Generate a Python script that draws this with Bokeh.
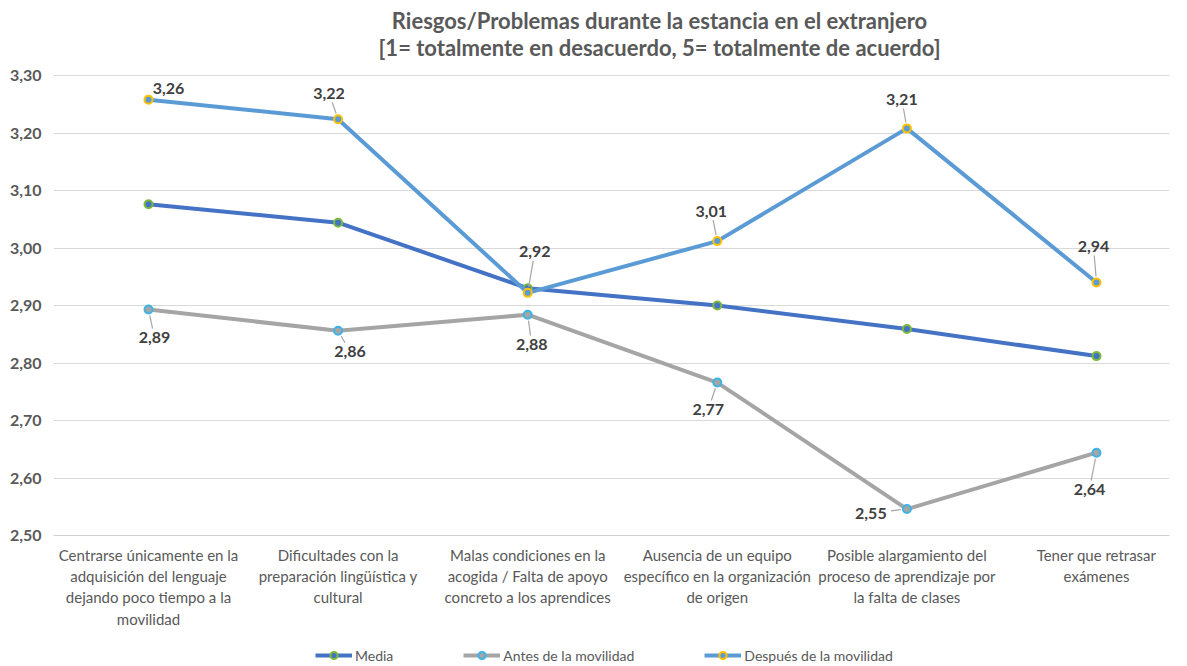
from bokeh.plotting import figure
from bokeh.layouts import column
from bokeh.models import (ColumnDataSource, Range1d, FixedTicker, CustomJSTickFormatter,
                          LabelSet, Label, Legend, LegendItem)
from bokeh.embed import file_html
from bokeh.resources import INLINE
from bokeh.core.properties import value

# ---------------- data ----------------
categories = [
    "Centrarse únicamente en la\nadquisición del lenguaje\ndejando poco tiempo a la\nmovilidad",
    "Dificultades con la\npreparación lingüística y\ncultural",
    "Malas condiciones en la\nacogida / Falta de apoyo\nconcreto a los aprendices",
    "Ausencia de un equipo\nespecífico en la organización\nde origen",
    "Posible alargamiento del\nproceso de aprendizaje por\nla falta de clases",
    "Tener que retrasar\nexámenes",
]
media = [3.076, 3.044, 2.930, 2.900, 2.859, 2.812]
antes = [2.893, 2.856, 2.884, 2.766, 2.546, 2.644]
despues = [3.258, 3.224, 2.922, 3.012, 3.208, 2.940]
series_names = ["Media", "Antes de la movilidad", "Después de la movilidad"]
y_ticks = [2.5, 2.6, 2.7, 2.8, 2.9, 3.0, 3.1, 3.2, 3.3]
title_lines = ["Riesgos/Problemas durante la estancia en el extranjero",
               "[1= totalmente en desacuerdo, 5= totalmente de acuerdo]"]

# ---------------- style / placement ----------------
FONT = "Lato"
W = 1171
H_MAIN, H_LEG = 640, 26
LEFT, RIGHT, BOTTOM = 53, 2, 105
AXIS_Y0 = H_MAIN - BOTTOM          # canvas pixel of the 2,50 line
GRID_TOP = 75                      # canvas pixel of the 3,30 line
PX_X = 189.6
PX_Y = (AXIS_Y0 - GRID_TOP) / (y_ticks[-1] - y_ticks[0])
X0 = -(148 - LEFT) / PX_X
X1 = X0 + (W - LEFT - RIGHT) / PX_X
Y0 = y_ticks[0]
Y1 = Y0 + AXIS_Y0 / PX_Y           # frame reaches the top of the canvas (title area)

# label offsets in pixels (dx right, dy up)
desp_off = [(20, 11), (-9, 26), (7, 41), (-6, 30), (-5, 29), (-3, 36)]
antes_off = [(6, -28), (12, -21), (4, -30), (-9, -27), (-36, -4), (-7, -37)]

c_media, c_media_b = "#4472C4", "#7DBA3C"
c_antes, c_antes_b = "#A5A5A5", "#3CB4E6"
c_desp, c_desp_b = "#5B9BD5", "#FFC000"
styles = [(c_media, c_media_b), (c_antes, c_antes_b), (c_desp, c_desp_b)]
series_vals = [media, antes, despues]

x = list(range(len(categories)))

p = figure(width=W, height=H_MAIN, output_backend="svg", toolbar_location=None,
           x_range=Range1d(X0, X1), y_range=Range1d(Y0, Y1),
           min_border_left=LEFT, min_border_right=RIGHT,
           min_border_top=0, min_border_bottom=BOTTOM)
p.outline_line_color = None
p.background_fill_color = "white"
p.border_fill_color = "white"

# axes
p.yaxis.ticker = FixedTicker(ticks=y_ticks)
p.yaxis.formatter = CustomJSTickFormatter(code="return tick.toFixed(2).replace('.', ',');")
p.yaxis.axis_line_color = None
p.yaxis.major_tick_line_color = None
p.yaxis.minor_tick_line_color = None
p.yaxis.major_label_text_font = FONT
p.yaxis.major_label_text_font_size = "16px"
p.yaxis.major_label_text_font_style = "bold"
p.yaxis.major_label_text_color = "#595959"
p.yaxis.major_label_standoff = 6

p.xaxis.ticker = FixedTicker(ticks=x)
p.xaxis.major_label_overrides = {i: c for i, c in enumerate(categories)}
p.xaxis.axis_line_color = "#D0D0D0"
p.xaxis.major_tick_line_color = None
p.xaxis.minor_tick_line_color = None
p.xaxis.major_label_text_font = FONT
p.xaxis.major_label_text_font_size = "15px"
p.xaxis.major_label_text_color = "#595959"
p.xaxis.major_label_text_line_height = 1.19
p.xaxis.major_label_standoff = 4

p.xgrid.grid_line_color = None
p.ygrid.grid_line_color = "#D9D9D9"
p.ygrid.grid_line_width = 1

# series
for vals, (lc, bc) in zip(series_vals, styles):
    src = ColumnDataSource(dict(x=x, y=vals))
    p.line("x", "y", source=src, line_color=lc, line_width=4)
    p.scatter("x", "y", source=src, size=8, fill_color=lc, line_color=bc, line_width=2)

# data labels with leader lines
def data_labels(vals, offs):
    xs, ys, txt, dxs, dys = [], [], [], [], []
    sx0, sy0, sx1, sy1 = [], [], [], []
    for i, (v, (dx, dy)) in enumerate(zip(vals, offs)):
        xs.append(i); ys.append(v)
        txt.append(f"{v:.2f}".replace(".", ","))
        dxs.append(dx); dys.append(dy)
        d = (dx * dx + dy * dy) ** 0.5
        tx = 20 / abs(dx) if dx else 1e9
        ty = 9 / abs(dy) if dy else 1e9
        t = min(tx, ty)
        ex, ey = dx * (1 - t), dy * (1 - t)
        st = 6 / d
        bx, by = dx * st, dy * st
        if (ex * ex + ey * ey) ** 0.5 - 6 > 3:
            sx0.append(i + bx / PX_X); sy0.append(v + by / PX_Y)
            sx1.append(i + ex / PX_X); sy1.append(v + ey / PX_Y)
    p.segment(sx0, sy0, sx1, sy1, line_color="#A6A6A6", line_width=1.2)
    src = ColumnDataSource(dict(x=xs, y=ys, t=txt, dx=dxs, dy=dys))
    p.add_layout(LabelSet(x="x", y="y", text="t", x_offset="dx", y_offset="dy",
                          source=src, text_align="center", text_baseline="middle",
                          text_font=value(FONT), text_font_size="16px",
                          text_font_style="bold", text_color="#404040"))

data_labels(despues, desp_off)
data_labels(antes, antes_off)

# title (inside the frame, above the 3,30 gridline)
title_cx = 659
title_cy = [20, 47]
for line, cy in zip(title_lines, title_cy):
    p.add_layout(Label(x=X0 + (title_cx - LEFT) / PX_X,
                       y=Y0 + (AXIS_Y0 - cy) / PX_Y,
                       text=line, text_align="center", text_baseline="middle",
                       text_font=FONT, text_font_size="22px", text_font_style="bold",
                       text_color="#595959"))

# legend strip (separate figure below the chart; series drawn out of its view)
lg = figure(width=W, height=H_LEG, output_backend="svg", toolbar_location=None,
            x_range=Range1d(0, 1), y_range=Range1d(0, 1),
            min_border_left=0, min_border_right=0, min_border_top=0, min_border_bottom=0)
lg.axis.visible = False
lg.grid.visible = False
lg.outline_line_color = None
items = []
for name, vals, (lc, bc) in zip(series_names, series_vals, styles):
    r1 = lg.line(x, vals, line_color=lc, line_width=4)
    r2 = lg.scatter(x, vals, size=8, fill_color=lc, line_color=bc, line_width=2)
    items.append(LegendItem(label=name, renderers=[r1, r2]))
lg.add_layout(Legend(items=items, orientation="horizontal", location=(262, 2),
                     glyph_width=37, glyph_height=18, label_height=18,
                     label_standoff=3, spacing=70,
                     padding=0, margin=0, border_line_color=None,
                     background_fill_alpha=0,
                     label_text_font=FONT, label_text_font_size="14px",
                     label_text_color="#595959"), "center")

open("out.html", "w").write(file_html(column(p, lg, spacing=0), INLINE))
